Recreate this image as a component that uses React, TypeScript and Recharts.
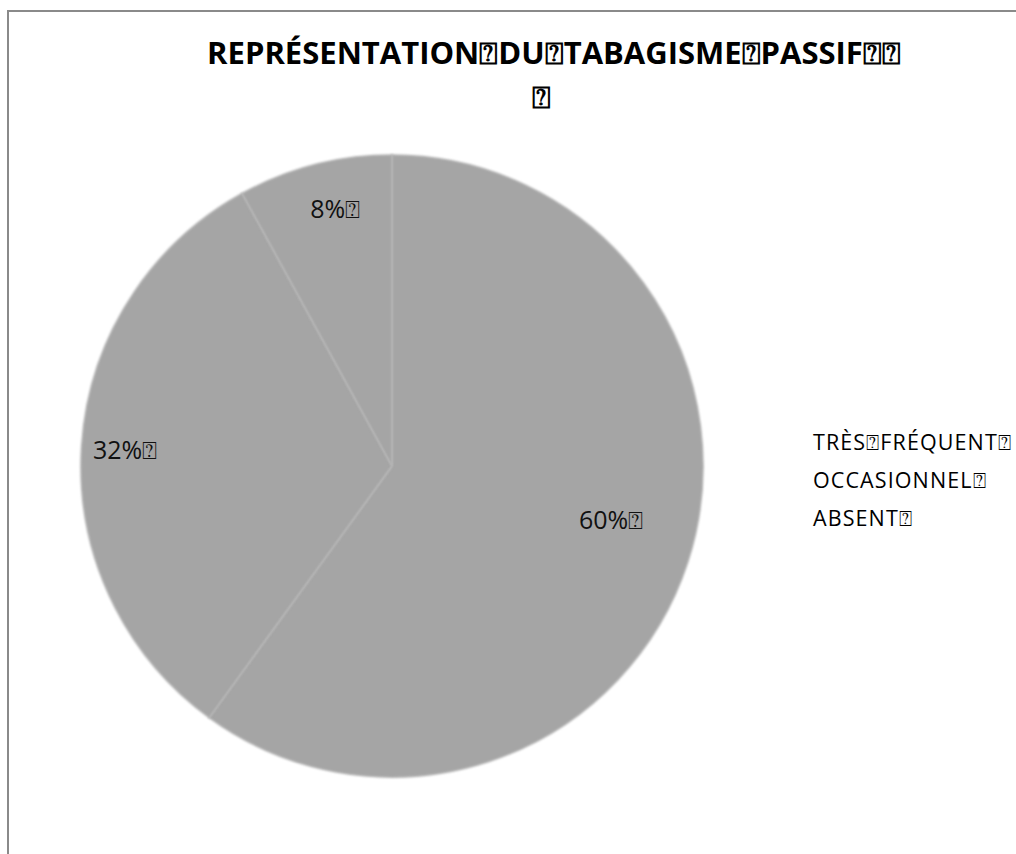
import React from 'react'
import { PieChart, Pie, Cell, Legend } from 'recharts'

const BOX = '\u2370'

const categories = [`TRÈS${BOX}FRÉQUENT${BOX}`, `OCCASIONNEL${BOX}`, `ABSENT${BOX}`]
const shares = [60, 32, 8]
const pctLabels = [`60%${BOX}`, `32%${BOX}`, `8%${BOX}`]
const title = `REPRÉSENTATION${BOX}DU${BOX}TABAGISME${BOX}PASSIF${BOX}${BOX}`

const data = categories.map((name, i) => ({ name, value: shares[i], label: pctLabels[i] }))

const FONT = "'Open Sans', 'DejaVu Sans', sans-serif"
const SLICE = '#a5a5a5'

// Excel "best fit" label spots, as radius fraction + angle nudge (deg)
const labelFit = [
  { r: 0.725, da: 4.3 },
  { r: 0.86, da: 0 },
  { r: 0.85, da: -2 },
]

const RAD = Math.PI / 180

function renderLabel(props: any) {
  const { cx, cy, midAngle, outerRadius, index } = props
  const fit = labelFit[index]
  const a = (midAngle + fit.da) * RAD
  const r = outerRadius * fit.r
  const x = cx + r * Math.cos(a)
  const y = cy - r * Math.sin(a)
  return (
    <text
      x={x}
      y={y}
      textAnchor="middle"
      dominantBaseline="central"
      fontFamily={FONT}
      fontSize={25}
      fill="#111"
    >
      {data[index].label}
    </text>
  )
}

function LegendList() {
  return (
    <div style={{ fontFamily: FONT, fontSize: 21.5, letterSpacing: 1.1, color: '#000' }}>
      {categories.map((c) => (
        <div key={c} style={{ height: 38, lineHeight: '38px', whiteSpace: 'nowrap' }}>
          {c}
        </div>
      ))}
    </div>
  )
}

export default function App() {
  return (
    <div
      style={{
        position: 'absolute',
        top: 10,
        left: 7,
        width: 1007,
        height: 842,
        borderTop: '2px solid #8a8a8a',
        borderLeft: '2px solid #8a8a8a',
        overflow: 'hidden',
        background: '#fff',
      }}
    >
      <style>{`.recharts-pie-sector path { filter: blur(0.8px); }`}</style>
      <div
        style={{
          position: 'absolute',
          top: 18,
          left: 0,
          width: 1090,
          textAlign: 'center',
          fontFamily: FONT,
          fontWeight: 700,
          fontSize: 31,
          lineHeight: '44px',
          color: '#000',
          zIndex: 2,
        }}
      >
        <div>{title}</div>
        <div style={{ marginLeft: -26 }}>{BOX}</div>
      </div>
      <PieChart width={1007} height={842}>
        <Pie
          data={data}
          dataKey="value"
          nameKey="name"
          cx={378}
          cy={449}
          outerRadius={311}
          startAngle={90}
          endAngle={-270}
          stroke="#b0b0b0"
          strokeWidth={1.5}
          label={renderLabel}
          labelLine={false}
          isAnimationActive={false}
        >
          {data.map((d) => (
            <Cell key={d.name} fill={SLICE} />
          ))}
        </Pie>
        <Legend
          layout="vertical"
          content={<LegendList />}
          wrapperStyle={{ left: 804, top: 411, width: 200 }}
        />
      </PieChart>
    </div>
  )
}
